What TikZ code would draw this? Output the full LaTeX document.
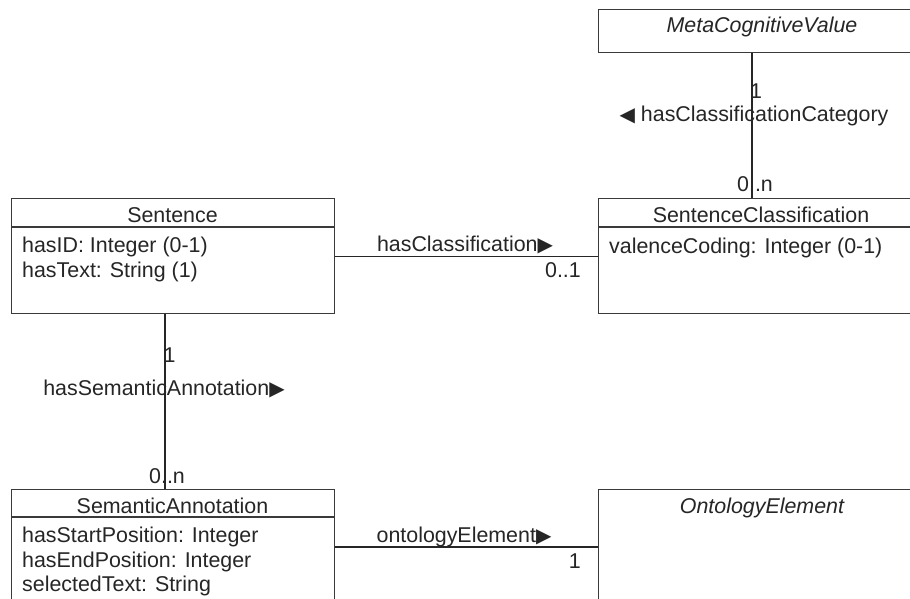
\documentclass[tikz,border=0pt]{standalone}
\usepackage{fontspec}
\setmainfont{Liberation Sans}
\newfontfamily\symfont{DejaVu Sans}
\newcommand{\rtri}{{\symfont\fontsize{20}{20}\selectfont ▶}}
\newcommand{\ltri}{{\symfont\fontsize{20}{20}\selectfont ◀}}
\definecolor{linegray}{HTML}{3A3A3A}
\definecolor{txtgray}{HTML}{262626}
\begin{document}
\begin{tikzpicture}[x=1pt,y=-1pt,
  classbox/.style={draw=linegray, line width=1.3pt, fill=white, rectangle,
    anchor=north west, inner sep=0pt},
  assoc/.style={draw=black!85, line width=1.2pt},
  lbl/.style={inner sep=0pt, text=txtgray, font=\fontsize{21.4}{24}\selectfont},
]
\clip (0,0) rectangle (910,599);
\fill[white] (0,0) rectangle (910,599);

% class boxes
\node[classbox, minimum width=323pt, minimum height=115pt] (sentence) at (11,198) {};
\node[classbox, minimum width=322pt, minimum height=115pt] (sentcls) at (598,198) {};
\node[classbox, minimum width=322pt, minimum height=43pt] (meta) at (598,9) {};
\node[classbox, minimum width=323pt, minimum height=125pt] (semann) at (11,489) {};
\node[classbox, minimum width=322pt, minimum height=125pt] (onto) at (598,489) {};

% compartment separators
\draw[linegray, line width=1.3pt] ([yshift=-29pt]sentence.north west) -- ([yshift=-29pt]sentence.north east);
\draw[linegray, line width=1.3pt] ([yshift=-29pt]sentcls.north west) -- ([yshift=-29pt]sentcls.north east);
\draw[linegray, line width=1.3pt] ([yshift=-28pt]semann.north west) -- ([yshift=-28pt]semann.north east);

% class names and attributes
\node[lbl, anchor=base] (tSentence) at (172.5,222) {Sentence};
\node[lbl, anchor=base west] (tId) at (22,252) {hasID: Integer (0-1)};
\node[lbl, anchor=base west] (tText) at (22,277) {hasText: String (1)};

\node[lbl, anchor=base] (tSentCls) at (761,222) {SentenceClassification};
\node[lbl, anchor=base west] (tValence) at (609,253) {valenceCoding: Integer (0-1)};

\node[lbl, anchor=base, font=\fontsize{21.4}{24}\selectfont\itshape] (tMeta) at (762,33) {MetaCognitiveValue};

\node[lbl, anchor=base] (tSemAnn) at (172.5,513) {SemanticAnnotation};
\node[lbl, anchor=base west] (tStart) at (22,542) {hasStartPosition: Integer};
\node[lbl, anchor=base west] (tEnd) at (22,567) {hasEndPosition: Integer};
\node[lbl, anchor=base west] (tSel) at (22,591) {selectedText: String};

\node[lbl, anchor=base, font=\fontsize{21.4}{24}\selectfont\itshape] (tOnto) at (762,513) {OntologyElement};

% associations
\draw[assoc] (sentence.east) -- (sentcls.west);
\draw[assoc] ([xshift=154pt]meta.south west) -- ([xshift=154pt]sentcls.north west);
\draw[assoc] ([xshift=154pt]sentence.south west) -- ([xshift=154pt]semann.north west);
\draw[assoc] ([yshift=-58pt]semann.north east) -- ([yshift=-58pt]onto.north west);

% association names and multiplicities
\node[lbl, anchor=base] (aCls) at (465,251) {hasClassification\rtri};
\node[lbl, anchor=base east] (mCls) at (581,277) {0..1};

\node[lbl, anchor=base] (mMeta1) at (756,99) {1};
\node[lbl, anchor=base] (aCat) at (754,122) {\ltri\ hasClassificationCategory};
\node[lbl, anchor=base] (mMetaN) at (755,191) {0..n};

\node[lbl, anchor=base] (mSem1) at (169.5,362) {1};
\node[lbl, anchor=base] (aSem) at (164,395) {hasSemanticAnnotation\rtri};
\node[lbl, anchor=base] (mSemN) at (167,483) {0..n};

\node[lbl, anchor=base] (aOnto) at (464,542) {ontologyElement\rtri};
\node[lbl, anchor=base east] (mOnto) at (581,568) {1};
\end{tikzpicture}
\end{document}
